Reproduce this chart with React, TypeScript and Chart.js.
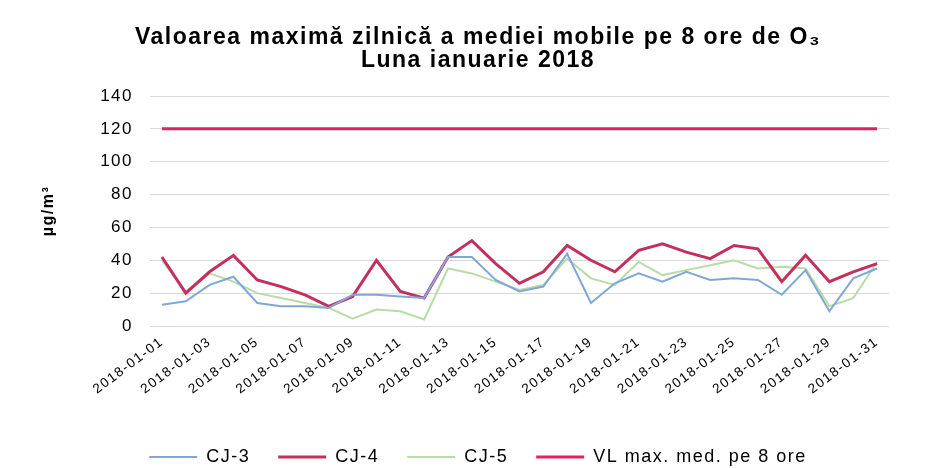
import React, { useEffect, useRef } from "react";
import { Chart, registerables } from "chart.js";

Chart.register(...registerables);

const days: string[] = [
  "2018-01-01", "2018-01-02", "2018-01-03", "2018-01-04", "2018-01-05", "2018-01-06",
  "2018-01-07", "2018-01-08", "2018-01-09", "2018-01-10", "2018-01-11", "2018-01-12",
  "2018-01-13", "2018-01-14", "2018-01-15", "2018-01-16", "2018-01-17", "2018-01-18",
  "2018-01-19", "2018-01-20", "2018-01-21", "2018-01-22", "2018-01-23", "2018-01-24",
  "2018-01-25", "2018-01-26", "2018-01-27", "2018-01-28", "2018-01-29", "2018-01-30",
  "2018-01-31",
];

const cj3: number[] = [13, 15, 25, 30, 14, 12, 12, 11, 19, 19, 18, 17, 42, 42, 28, 21, 24, 44, 14, 26, 32, 27, 33, 28, 29, 28, 19, 34, 9, 29, 35];
const cj4: number[] = [42, 20, 33, 43, 28, 24, 19, 12, 18, 40, 21, 17, 42, 52, 38, 26, 33, 49, 40, 33, 46, 50, 45, 41, 49, 47, 27, 43, 27, 33, 38];
const cj5: number[] = [40, 21, 32, 27, 20, 17, 14, 11, 4.5, 10, 9, 4, 35, 32, 27, 22, 25, 41, 29, 25, 39, 31, 34, 37, 40, 35, 36, 35, 12, 17, 39];
const vl: number[] = days.map(() => 120);

const titleLines: string[] = ["Valoarea maximă zilnică a mediei mobile pe 8 ore de O₃", "Luna ianuarie 2018"];
const seriesNames: string[] = ["CJ-3", "CJ-4", "CJ-5", "VL max. med. pe 8 ore"];
const yTitle = "µg/m³";

const FONT = "'Liberation Sans', Arial, sans-serif";

const spacingPlugin = {
  id: "letterSpacing",
  beforeUpdate(chart: any) {
    chart.ctx.letterSpacing = "1.5px";
  },
  beforeDraw(chart: any) {
    chart.ctx.letterSpacing = "1.5px";
  },
};

export default function App() {
  const ref = useRef<HTMLCanvasElement | null>(null);

  useEffect(() => {
    if (!ref.current) return;
    const chart = new Chart(ref.current, {
      type: "line",
      data: {
        labels: days,
        datasets: [
          { label: seriesNames[0], data: cj3, borderColor: "#7fa7d8", backgroundColor: "#7fa7d8", borderWidth: 2, pointRadius: 0, tension: 0 },
          { label: seriesNames[1], data: cj4, borderColor: "#c2305e", backgroundColor: "#c2305e", borderWidth: 3, pointRadius: 0, tension: 0 },
          { label: seriesNames[2], data: cj5, borderColor: "#b9dca6", backgroundColor: "#b9dca6", borderWidth: 2, pointRadius: 0, tension: 0 },
          { label: seriesNames[3], data: vl, borderColor: "#e61e64", backgroundColor: "#e61e64", borderWidth: 3, pointRadius: 0, tension: 0 },
        ],
      },
      plugins: [spacingPlugin],
      options: {
        responsive: false,
        animation: false,
        layout: { padding: { left: 67, right: 40, top: 16, bottom: -8 } },
        plugins: {
          title: {
            display: true,
            text: titleLines,
            color: "#000",
            font: { family: FONT, size: 23, weight: "bold", lineHeight: 1.0 },
            padding: { top: 10, bottom: 24 },
          },
          legend: {
            position: "bottom",
            labels: {
              usePointStyle: true,
              pointStyle: "line",
              pointStyleWidth: 48,
              color: "#000",
              font: { family: FONT, size: 18 },
              padding: 28,
            },
          },
          tooltip: { enabled: false },
        },
        scales: {
          x: {
            offset: true,
            grid: { display: false },
            border: { display: false },
            ticks: {
              autoSkip: false,
              maxRotation: 37,
              minRotation: 37,
              color: "#000",
              font: { family: FONT, size: 13.5 },
              padding: 0,
              callback: function (value: any, index: number) {
                return index % 2 === 0 ? days[index] : "";
              },
            },
            afterFit: (scale: any) => {
              scale.height = 94;
            },
          },
          y: {
            min: 0,
            max: 140,
            ticks: { stepSize: 20, color: "#000", font: { family: FONT, size: 17 }, padding: 17 },
            grid: { color: "#d9d9d9", drawTicks: false },
            border: { display: false },
            title: {
              display: true,
              text: yTitle,
              color: "#000",
              font: { family: FONT, size: 16, weight: "bold" },
              padding: { top: -28, bottom: 4 },
            },
            afterFit: (scale: any) => {
              scale.width = 83;
            },
          },
        },
      },
    });
    return () => chart.destroy();
  }, []);

  return (
    <div style={{ position: "fixed", left: 0, top: 0, width: 929, height: 468, background: "#fff" }}>
      <canvas ref={ref} width={929} height={468} />
    </div>
  );
}
